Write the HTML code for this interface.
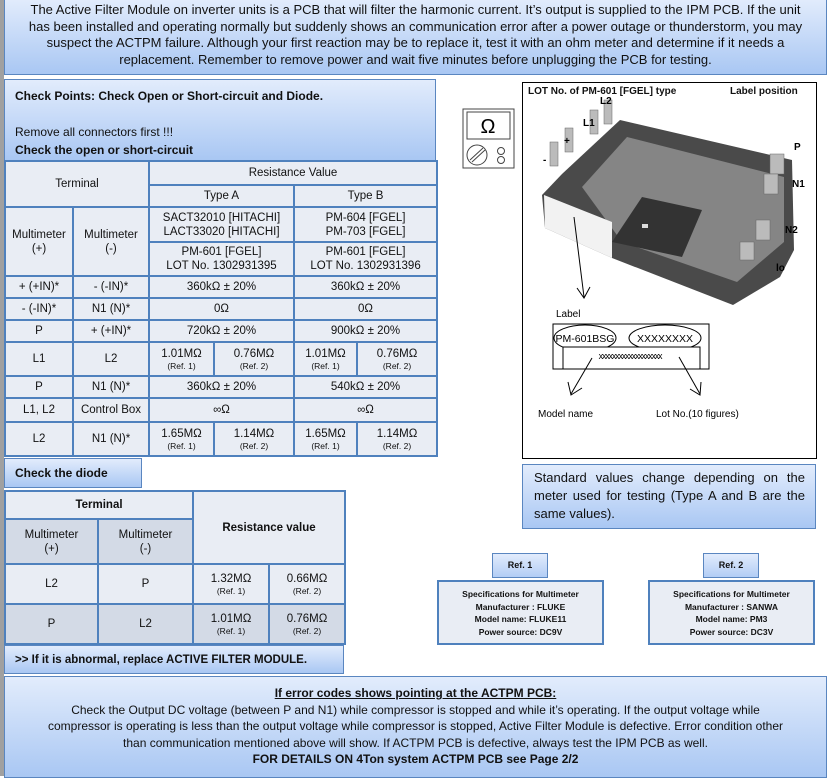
<!DOCTYPE html>
<html><head><meta charset="utf-8">
<style>
*{margin:0;padding:0;box-sizing:border-box}
body{width:830px;height:776px;position:relative;background:#fff;font-family:"Liberation Sans",sans-serif;color:#111;overflow:hidden}
.a{position:absolute}
.grad{background:linear-gradient(#e2ecfc,#a9c7f3);border:1px solid #5a86c0}
table{border-collapse:collapse;table-layout:fixed;position:absolute}
td{border:2px solid #4f81bd;background:#e9edf4;text-align:center;vertical-align:middle;font-size:11.5px;line-height:14px;padding:0}
td small{font-size:8.5px;line-height:11px;display:block}
.d td{background:#e9edf4}
.d tr.g td{background:#d3dae6}
.spec{border:2px solid #4f81bd;background:#e9edf4;font-size:8.5px;font-weight:bold;text-align:center;line-height:12.5px;padding-top:6px}
.btn{background:linear-gradient(#e2ecfc,#b2cdf5);border:1px solid #5a86c0;font-size:9px;font-weight:bold;text-align:center;line-height:23px}
</style></head><body>
<div class="a" style="left:0;top:0;width:4px;height:776px;background:#a0a0a0"></div>
<div class="a grad" style="left:4px;top:-2px;width:823px;height:77px;text-align:center;font-size:13px;line-height:16.5px;padding:3px 20px 0">The Active Filter Module on inverter units is a PCB that will filter the harmonic current. It’s output is supplied to the IPM PCB. If the unit has been installed and operating normally but suddenly shows an communication error after a power outage or thunderstorm, you may suspect the ACTPM failure. Although your first reaction may be to replace it, test it with an ohm meter and determine if it needs a replacement. Remember to remove power and wait five minutes before unplugging the PCB for testing.</div>

<div class="a grad" style="left:4px;top:79px;width:432px;height:82px;font-size:12px;font-weight:bold;padding:7px 10px;line-height:18px">Check Points: Check Open or Short-circuit and Diode.<br><br><span style="font-weight:normal">Remove all connectors first !!!</span><br>Check the open or short-circuit</div>

<table style="left:4px;top:160px;width:432px">
<colgroup><col style="width:68px"><col style="width:76px"><col style="width:65px"><col style="width:80px"><col style="width:63px"><col style="width:80px"></colgroup>
<tr style="height:24px"><td colspan="2" rowspan="2">Terminal</td><td colspan="4">Resistance Value</td></tr>
<tr style="height:22px"><td colspan="2">Type A</td><td colspan="2">Type B</td></tr>
<tr style="height:35px"><td rowspan="2">Multimeter<br>(+)</td><td rowspan="2">Multimeter<br>(-)</td><td colspan="2">SACT32010 [HITACHI]<br>LACT33020 [HITACHI]</td><td colspan="2">PM-604 [FGEL]<br>PM-703 [FGEL]</td></tr>
<tr style="height:34px"><td colspan="2">PM-601 [FGEL]<br>LOT No. 1302931395</td><td colspan="2">PM-601 [FGEL]<br>LOT No. 1302931396</td></tr>
<tr style="height:22px"><td>+ (+IN)*</td><td>- (-IN)*</td><td colspan="2">360kΩ ± 20%</td><td colspan="2">360kΩ ± 20%</td></tr>
<tr style="height:22px"><td>- (-IN)*</td><td>N1 (N)*</td><td colspan="2">0Ω</td><td colspan="2">0Ω</td></tr>
<tr style="height:22px"><td>P</td><td>+ (+IN)*</td><td colspan="2">720kΩ ± 20%</td><td colspan="2">900kΩ ± 20%</td></tr>
<tr style="height:34px"><td>L1</td><td>L2</td><td>1.01MΩ<small>(Ref. 1)</small></td><td>0.76MΩ<small>(Ref. 2)</small></td><td>1.01MΩ<small>(Ref. 1)</small></td><td>0.76MΩ<small>(Ref. 2)</small></td></tr>
<tr style="height:22px"><td>P</td><td>N1 (N)*</td><td colspan="2">360kΩ ± 20%</td><td colspan="2">540kΩ ± 20%</td></tr>
<tr style="height:24px"><td>L1, L2</td><td>Control Box</td><td colspan="2">∞Ω</td><td colspan="2">∞Ω</td></tr>
<tr style="height:34px"><td>L2</td><td>N1 (N)*</td><td>1.65MΩ<small>(Ref. 1)</small></td><td>1.14MΩ<small>(Ref. 2)</small></td><td>1.65MΩ<small>(Ref. 1)</small></td><td>1.14MΩ<small>(Ref. 2)</small></td></tr>
</table>

<div class="a grad" style="left:4px;top:458px;width:138px;height:30px;font-size:12px;font-weight:bold;padding-left:10px;line-height:29px">Check the diode</div>

<table class="d" style="left:4px;top:490px;width:340px">
<colgroup><col style="width:93px"><col style="width:95px"><col style="width:76px"><col style="width:76px"></colgroup>
<tr style="height:28px"><td colspan="2" style="font-weight:bold">Terminal</td><td colspan="2" rowspan="2" style="font-weight:bold">Resistance value</td></tr>
<tr style="height:45px" class="g"><td>Multimeter<br>(+)</td><td>Multimeter<br>(-)</td></tr>
<tr style="height:40px"><td>L2</td><td>P</td><td>1.32MΩ<small>(Ref. 1)</small></td><td>0.66MΩ<small>(Ref. 2)</small></td></tr>
<tr style="height:40px" class="g"><td>P</td><td>L2</td><td>1.01MΩ<small>(Ref. 1)</small></td><td>0.76MΩ<small>(Ref. 2)</small></td></tr>
</table>
<div class="a grad" style="left:4px;top:645px;width:340px;height:29px;font-size:11.5px;font-weight:bold;padding-left:10px;line-height:28px">&gt;&gt; If it is abnormal, replace ACTIVE FILTER MODULE.</div>

<svg class="a" style="left:455px;top:100px" width="70" height="75">
<rect x="8" y="9" width="51" height="59" fill="#fff" stroke="#444" stroke-width="1"/>
<rect x="12" y="12" width="43" height="27" fill="#fff" stroke="#444"/>
<text x="33" y="33" font-size="20" text-anchor="middle" font-family="Liberation Sans">Ω</text>
<circle cx="22" cy="55" r="10" fill="#fff" stroke="#444"/>
<line x1="15" y1="60" x2="28" y2="48" stroke="#444"/><line x1="17" y1="62" x2="30" y2="50" stroke="#444"/>
<circle cx="46" cy="51" r="3.5" fill="#fff" stroke="#444"/><circle cx="46" cy="60" r="3.5" fill="#fff" stroke="#444"/>
</svg>

<div class="a" style="left:522px;top:82px;width:295px;height:377px;border:1.5px solid #000"></div>
<div class="a" style="left:528px;top:86px;font-size:10px;font-weight:bold">LOT No. of PM-601 [FGEL] type</div>
<div class="a" style="left:730px;top:86px;font-size:10px;font-weight:bold">Label position</div>
<svg class="a" style="left:522px;top:82px" width="295" height="377" font-family="Liberation Sans" font-size="10" font-weight="bold">
<polygon points="20,113 40,92 98,38 270,78 272,168 258,195 211,223 90,176 23,146" fill="#4a4a4a"/>
<polygon points="60,105 105,55 262,95 262,160 215,200 100,160" fill="#858585"/>
<polygon points="22,113 90,140 90,176 23,146" fill="#f2f2f2"/>
<polygon points="90,160 120,115 180,128 160,175" fill="#333"/>
<rect x="120" y="142" width="6" height="4" fill="#ddd"/>
<g fill="#bbb" stroke="#666" stroke-width="0.5">
<rect x="28" y="60" width="8" height="24"/><rect x="43" y="46" width="8" height="24"/><rect x="68" y="28" width="8" height="24"/><rect x="82" y="18" width="8" height="24"/>
<rect x="248" y="72" width="14" height="20"/><rect x="242" y="92" width="14" height="20"/><rect x="234" y="138" width="14" height="20"/><rect x="218" y="160" width="14" height="18"/>
</g>
<text x="78" y="22">L2</text><text x="61" y="44">L1</text><text x="42" y="62">+</text><text x="21" y="81">-</text>
<text x="272" y="68">P</text><text x="270" y="105">N1</text><text x="263" y="151">N2</text><text x="254" y="189">lo</text>
<line x1="52" y1="135" x2="62" y2="215" stroke="#000" stroke-width="1"/>
<polyline points="55,206 62,216 68,205" fill="none" stroke="#000"/>
<text x="34" y="235" font-weight="normal">Label</text>
<rect x="31" y="242" width="156" height="45" fill="#fff" stroke="#000"/>
<ellipse cx="63" cy="256" rx="31" ry="13" fill="#fff" stroke="#000"/>
<ellipse cx="143" cy="256" rx="36" ry="13" fill="#fff" stroke="#000"/>
<text x="63" y="260" text-anchor="middle" font-weight="normal" font-size="10.5">PM-601BSG</text>
<text x="143" y="260" text-anchor="middle" font-weight="normal" font-size="10.5">XXXXXXXX</text>
<rect x="41" y="265" width="137" height="22" fill="#fff" stroke="#000"/>
<text x="108" y="277" text-anchor="middle" font-weight="normal" font-size="9" letter-spacing="-1.2">xxxxxxxxxxxxxxxxxxx</text>
<line x1="70" y1="276" x2="49" y2="312" stroke="#000"/>
<polyline points="46,300 49,313 60,306" fill="none" stroke="#000"/>
<line x1="157" y1="275" x2="178" y2="312" stroke="#000"/>
<polyline points="168,307 178,313 179,300" fill="none" stroke="#000"/>
<text x="16" y="335" font-weight="normal">Model name</text>
<text x="134" y="335" font-weight="normal">Lot No.(10 figures)</text>
</svg>

<div class="a grad" style="left:522px;top:464px;width:294px;height:65px;font-size:13px;line-height:18px;padding:4px 10px 0 11px;text-align:justify">Standard values change depending on the meter used for testing (Type A and B are the same values).</div>

<div class="a btn" style="left:492px;top:553px;width:56px;height:25px">Ref. 1</div>
<div class="a spec" style="left:437px;top:580px;width:167px;height:65px">Specifications for Multimeter<br>Manufacturer : FLUKE<br>Model name: FLUKE11<br>Power source: DC9V</div>
<div class="a btn" style="left:703px;top:553px;width:56px;height:25px">Ref. 2</div>
<div class="a spec" style="left:648px;top:580px;width:167px;height:65px">Specifications for Multimeter<br>Manufacturer : SANWA<br>Model name: PM3<br>Power source: DC3V</div>

<div class="a grad" style="left:4px;top:676px;width:823px;height:102px;text-align:center;font-size:12px;line-height:16.5px;padding:8px 40px 0">
<b style="text-decoration:underline">If error codes shows pointing at the ACTPM PCB:</b><br>
Check the Output DC voltage (between P and N1) while compressor is stopped and while it’s operating. If the output voltage while compressor is operating is less than the output voltage while compressor is stopped, Active Filter Module is defective. Error condition other than communication mentioned above will show. If ACTPM PCB is defective, always test the IPM PCB as well.<br>
<b>FOR DETAILS ON 4Ton system ACTPM PCB see Page 2/2</b></div>
</body></html>
